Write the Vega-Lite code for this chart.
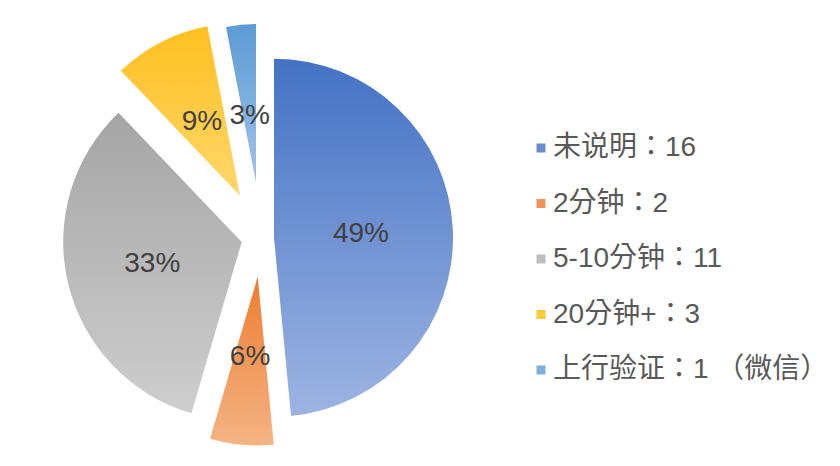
{
  "$schema": "https://vega.github.io/schema/vega-lite/v6.json",
  "width": 522,
  "height": 466,
  "padding": 0,
  "background": "white",
  "config": {"view": {"stroke": null}, "font": "Liberation Sans, Noto Sans CJK TC"},
  "data": {"values": [
    {"order": 1, "name": "未说明", "legend": "未说明：16", "value": 16, "pct": "49%"},
    {"order": 2, "name": "2分钟", "legend": "2分钟：2", "value": 2, "pct": "6%"},
    {"order": 3, "name": "5-10分钟", "legend": "5-10分钟：11", "value": 11, "pct": "33%"},
    {"order": 4, "name": "20分钟+", "legend": "20分钟+：3", "value": 3, "pct": "9%"},
    {"order": 5, "name": "上行验证", "legend": "上行验证：1 （微信）", "value": 1, "pct": "3%"}
  ]},
  "transform": [
    {"stack": "value", "groupby": [], "sort": [{"field": "order", "order": "ascending"}], "as": ["v0", "v1"]}
  ],
  "layer": [
    {
      "transform": [{"filter": "datum.order === 1"}],
      "mark": {"type": "arc", "outerRadius": 179, "xOffset": 13, "yOffset": 4.7,
        "fill": {"x1": 0, "y1": 0, "x2": 0, "y2": 1, "gradient": "linear", "stops": [{"offset": 0, "color": "#4472C4"}, {"offset": 1, "color": "#9DB4E2"}]}},
      "encoding": {
        "theta": {"field": "v0", "type": "quantitative", "scale": {"zero": true, "nice": false}},
        "theta2": {"field": "v1"},
        "color": {"field": "legend", "type": "nominal",
          "scale": {"domain": ["未说明：16", "2分钟：2", "5-10分钟：11", "20分钟+：3", "上行验证：1 （微信）"],
                    "range": ["#6B8CD0", "#F0955A", "#BDBDBD", "#FFCB35", "#7EB1E0"]},
          "legend": {"orient": "none", "legendX": 527, "legendY": 134, "title": null, "symbolType": "square", "symbolSize": 81, "symbolStrokeWidth": 0, "labelFontSize": 28, "labelColor": "#595959", "labelFont": "Liberation Sans, Noto Sans CJK TC", "labelOffset": -2, "rowPadding": 27.5, "labelLimit": 0, "padding": 0}}
      }
    },
    {
      "transform": [{"filter": "datum.order === 2"}],
      "mark": {"type": "arc", "outerRadius": 169, "xOffset": -3.3, "yOffset": 43.6,
        "fill": {"x1": 0, "y1": 0, "x2": 0, "y2": 1, "gradient": "linear", "stops": [{"offset": 0, "color": "#ED7D31"}, {"offset": 1, "color": "#F4B485"}]}},
      "encoding": {"theta": {"field": "v0", "type": "quantitative"}, "theta2": {"field": "v1"}}
    },
    {
      "transform": [{"filter": "datum.order === 3"}],
      "mark": {"type": "arc", "outerRadius": 178.5, "xOffset": -19.3, "yOffset": 9,
        "fill": {"x1": 0, "y1": 0, "x2": 0, "y2": 1, "gradient": "linear", "stops": [{"offset": 0, "color": "#A5A5A5"}, {"offset": 1, "color": "#CECECE"}]}},
      "encoding": {"theta": {"field": "v0", "type": "quantitative"}, "theta2": {"field": "v1"}}
    },
    {
      "transform": [{"filter": "datum.order === 4"}],
      "mark": {"type": "arc", "outerRadius": 172.6, "xOffset": -21, "yOffset": -37.3,
        "fill": {"x1": 0, "y1": 0, "x2": 0, "y2": 1, "gradient": "linear", "stops": [{"offset": 0, "color": "#FFBF1F"}, {"offset": 1, "color": "#FFD86C"}]}},
      "encoding": {"theta": {"field": "v0", "type": "quantitative"}, "theta2": {"field": "v1"}}
    },
    {
      "transform": [{"filter": "datum.order === 5"}],
      "mark": {"type": "arc", "outerRadius": 158.5, "xOffset": -5, "yOffset": -50.4,
        "fill": {"x1": 0, "y1": 0, "x2": 0, "y2": 1, "gradient": "linear", "stops": [{"offset": 0, "color": "#5B9BD5"}, {"offset": 1, "color": "#A0C4E8"}]}},
      "encoding": {"theta": {"field": "v0", "type": "quantitative"}, "theta2": {"field": "v1"}}
    },
    {
      "mark": {"type": "text", "radius": 87, "xOffset": 13, "yOffset": 4.7, "fontSize": 28, "fill": "#404040", "font": "Liberation Sans"},
      "encoding": {"theta": {"field": "value", "type": "quantitative", "stack": true}, "order": {"field": "order"},
        "text": {"condition": {"test": "datum.order === 1", "field": "pct"}, "value": ""}}
    },
    {
      "mark": {"type": "text", "radius": 80.6, "xOffset": -3.3, "yOffset": 43.6, "fontSize": 28, "fill": "#404040", "font": "Liberation Sans"},
      "encoding": {"theta": {"field": "value", "type": "quantitative", "stack": true}, "order": {"field": "order"},
        "text": {"condition": {"test": "datum.order === 2", "field": "pct"}, "value": ""}}
    },
    {
      "mark": {"type": "text", "radius": 92, "xOffset": -19.3, "yOffset": 9, "fontSize": 28, "fill": "#404040", "font": "Liberation Sans"},
      "encoding": {"theta": {"field": "value", "type": "quantitative", "stack": true}, "order": {"field": "order"},
        "text": {"condition": {"test": "datum.order === 3", "field": "pct"}, "value": ""}}
    },
    {
      "mark": {"type": "text", "radius": 83, "xOffset": -21, "yOffset": -37.3, "fontSize": 28, "fill": "#404040", "font": "Liberation Sans"},
      "encoding": {"theta": {"field": "value", "type": "quantitative", "stack": true}, "order": {"field": "order"},
        "text": {"condition": {"test": "datum.order === 4", "field": "pct"}, "value": ""}}
    },
    {
      "mark": {"type": "text", "radius": 67, "xOffset": -5, "yOffset": -50.4, "fontSize": 28, "fill": "#404040", "font": "Liberation Sans"},
      "encoding": {"theta": {"field": "value", "type": "quantitative", "stack": true}, "order": {"field": "order"},
        "text": {"condition": {"test": "datum.order === 5", "field": "pct"}, "value": ""}}
    }
  ]
}
